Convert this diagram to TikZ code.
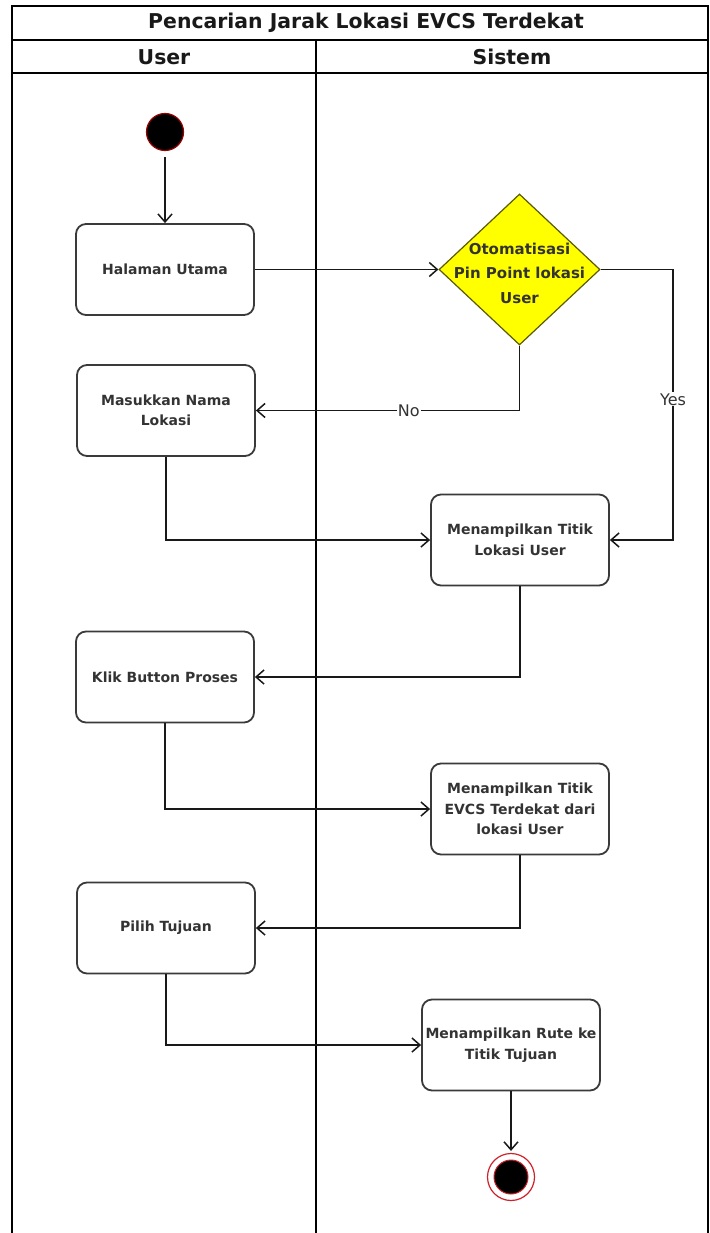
\documentclass[tikz,border=0pt]{standalone}
\usepackage{fontspec}
\setmainfont{Liberation Sans}
\newfontfamily\dejavu{DejaVu Sans}
\usetikzlibrary{shapes.geometric,arrows.meta}

\definecolor{boxline}{HTML}{3A3A3A}
\definecolor{txt}{HTML}{333333}
\definecolor{decfill}{HTML}{FFFF00}
\definecolor{decline}{HTML}{5C5A00}
\definecolor{startline}{HTML}{990000}
\definecolor{endring}{HTML}{D0202A}

\tikzset{
  lane/.style={line width=1.4pt, black},
  action/.style={draw=boxline, line width=1.8pt, rounded corners=10pt,
    minimum width=178pt, minimum height=91pt, align=center, inner sep=2pt,
    text=txt, font=\dejavu\bfseries\fontsize{14}{20.5}\selectfont},
  decision/.style={diamond, draw=decline, fill=decfill, line width=1.2pt,
    minimum width=161pt, minimum height=151pt, inner sep=0pt},
  flow/.style={line width=1.5pt, draw=black!90,
    -{Straight Barb[length=8pt,width=14pt,line width=1.5pt]}},
  guard/.style={fill=white, inner sep=1pt, text=txt,
    font=\dejavu\fontsize{16}{18}\selectfont},
  lanetitle/.style={text=black!90, font=\dejavu\bfseries\fontsize{20.4}{24}\selectfont},
  lanehead/.style={text=black!90, font=\dejavu\bfseries\fontsize{20.4}{24}\selectfont},
}

\begin{document}
\begin{tikzpicture}[x=1pt, y=-1pt]
\useasboundingbox (0,0) rectangle (709,1233);

% swimlane frame
\draw[lane] (12,1233) -- (12,6) -- (708,6) -- (708,1233);
\draw[lane] (12,40) -- (708,40);
\draw[lane] (12,73) -- (708,73);
\draw[lane] (316,40) -- (316,1233);

\node[lanetitle] (title) at (366,23) {Pencarian Jarak Lokasi EVCS Terdekat};
\node[lanehead] (huser) at (164,57) {User};
\node[lanehead] (hsys) at (512,57) {Sistem};

% initial state
\node[circle, fill=black, draw=startline, line width=1.2pt,
      minimum size=37pt, inner sep=0pt] (start) at (165,132) {};

% actions
\node[action] (hal) at (165,269.5) {Halaman Utama};
\node[decision] (dia) at (519.5,269.5) {};
\node[text=txt, align=center, font=\dejavu\bfseries\fontsize{15}{24.5}\selectfont]
  (diatxt) at (519.5,273) {Otomatisasi\\Pin Point lokasi\\User};
\node[action] (mn) at (166,410.5) {Masukkan Nama\\Lokasi};
\node[action] (tl) at (520,540) {Menampilkan Titik\\Lokasi User};
\node[action] (klik) at (165,677) {Klik Button Proses};
\node[action] (evcs) at (520,809) {Menampilkan Titik\\EVCS Terdekat dari\\lokasi User};
\node[action] (pilih) at (166,928) {Pilih Tujuan};
\node[action] (rute) at (511,1045) {Menampilkan Rute ke\\Titik Tujuan};

% final state
\node[circle, draw=endring, line width=1.2pt, fill=white,
      minimum size=47pt, inner sep=0pt] (stop) at (511,1177) {};
\node[circle, fill=black, draw=endring, line width=1pt,
      minimum size=34pt, inner sep=0pt] (stopdot) at (stop) {};

% control flow
\draw[flow, shorten <=6pt] (start.south) -- (hal.north);
\draw[flow] (hal.east) -- (dia.west);
\draw[flow] (dia.east) -- ++(72.5,0) |- (tl.east)
  node[guard, pos=0.24] (yes) {Yes};
\draw[flow] (dia.south) |- (mn.east)
  node[guard, pos=0.71] (no) {No};
\draw[flow] (mn.south) |- (tl.west);
\draw[flow] (tl.south) |- (klik.east);
\draw[flow] (klik.south) |- (evcs.west);
\draw[flow] (evcs.south) |- (pilih.east);
\draw[flow] (pilih.south) |- (rute.west);
\draw[flow, shorten >=2pt] (rute.south) -- (stop.north);
\end{tikzpicture}
\end{document}
